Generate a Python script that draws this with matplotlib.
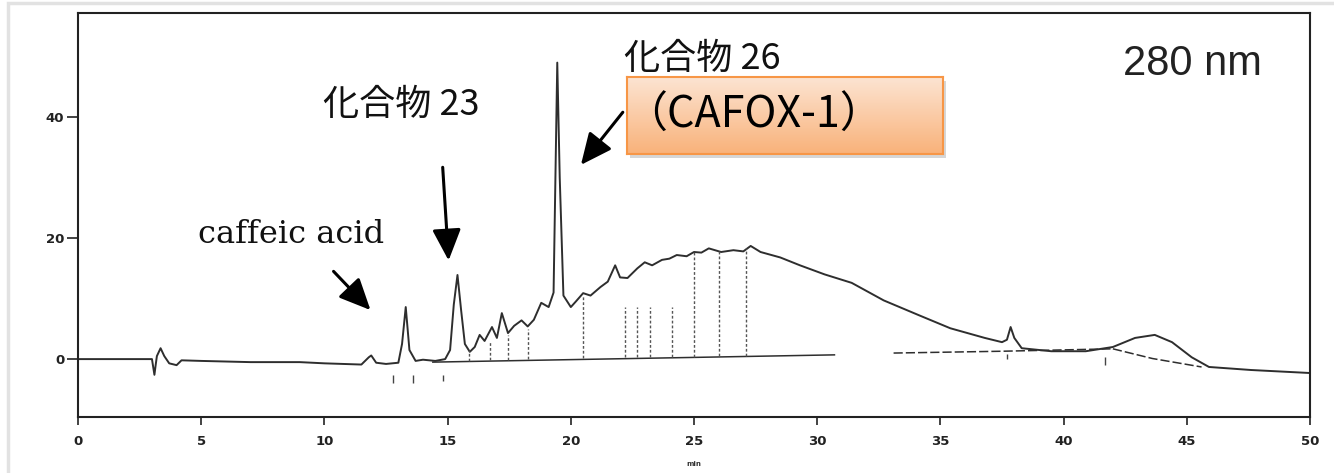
import numpy as np
import matplotlib
matplotlib.use('Agg')
import matplotlib.pyplot as plt
from matplotlib.patches import Rectangle

# chromatogram trace (min, mAU)
trace_t = [0, 3.0, 3.1, 3.15, 3.2, 3.35, 3.5, 3.7, 4.0, 4.2, 5, 7, 9, 10, 11.5, 11.8, 11.9, 12.1,
           12.5, 13.0, 13.15, 13.3, 13.45, 13.7, 14.0, 14.5, 14.9, 15.1, 15.25, 15.4, 15.55, 15.7,
           15.9, 16.1, 16.3, 16.5, 16.8, 17.0, 17.2, 17.45, 17.7, 18.0, 18.25, 18.5, 18.8, 19.1,
           19.3, 19.45, 19.55, 19.7, 20.0, 20.2, 20.5, 20.8, 21.2, 21.5, 21.8, 22.0, 22.3, 22.7,
           23.0, 23.3, 23.7, 24.0, 24.3, 24.7, 25.0, 25.3, 25.6, 26.1, 26.6, 27.0, 27.3, 27.7,
           28.5, 29.3, 30.3, 31.4, 32.7, 34.1, 35.4, 36.8, 37.5, 37.7, 37.85, 38.0, 38.3, 39.5,
           40.9, 42.0, 42.9, 43.7, 44.4, 45.2, 45.9, 47.6, 50]
trace_y = [0, 0, -2.6, -1.0, 0.5, 1.8, 0.5, -0.7, -1.0, -0.2, -0.3, -0.5, -0.5, -0.7, -0.9, 0.3, 0.6, -0.6,
           -0.8, -0.6, 2.5, 8.6, 1.5, -0.3, -0.1, -0.3, 0.0, 1.5, 9.0, 13.9, 8.0, 2.5,
           1.2, 2.0, 4.0, 3.0, 5.3, 3.5, 7.6, 4.3, 5.5, 6.4, 5.4, 6.5, 9.3, 8.6,
           11.0, 49.0, 30.0, 10.5, 8.6, 9.5, 10.9, 10.5, 11.9, 12.8, 15.5, 13.5, 13.4, 15.0,
           16.0, 15.5, 16.4, 16.6, 17.2, 17.0, 17.7, 17.6, 18.3, 17.7, 18.0, 17.8, 18.7, 17.7,
           16.8, 15.5, 14.0, 12.6, 9.7, 7.3, 5.1, 3.5, 2.8, 3.2, 5.3, 3.5, 1.8, 1.3,
           1.3, 2.0, 3.5, 4.0, 2.8, 0.3, -1.3, -1.8, -2.3]

# integration baselines
base1_t = [14.4, 30.7]
base1_y = [-0.5, 0.7]
base2_t = [33.1, 37.5, 42.0]
base2_y = [1.0, 1.3, 1.7]
base3_t = [42.0, 43.6, 45.6]
base3_y = [1.7, 0.1, -1.3]

# peak drop lines
drop_t = [15.85, 16.7, 17.45, 18.25, 20.5, 22.2, 22.7, 23.2, 24.1, 25.0, 26.0, 27.1]
drop_lo = [-0.3, -0.2, -0.1, 0.0, 0.2, 0.3, 0.3, 0.3, 0.4, 0.4, 0.5, 0.5]
drop_hi = [1.5, 3.0, 4.0, 5.0, 10.5, 8.6, 8.6, 8.6, 8.6, 17.7, 18.0, 18.3]

# event marks under the trace
mark_t = [12.8, 13.6, 14.8, 37.7, 41.7]
mark_lo = [-4.0, -4.0, -3.6, 0.0, -1.0]
mark_hi = [-2.6, -2.6, -2.6, 0.8, 0.4]

xticks = [0, 5, 10, 15, 20, 25, 30, 35, 40, 45, 50]
yticks = [0, 20, 40]

cjk = ['Noto Sans CJK JP', 'DejaVu Sans']

fig = plt.figure(figsize=(13.34, 4.73), dpi=100)
ax = fig.add_axes([0.0585, 0.118, 0.9235, 0.8545])

ink = '#2e2e2e'
ax.plot(trace_t, trace_y, color=ink, lw=1.4)
ax.plot(base1_t, base1_y, color=ink, lw=1.1)
ax.plot(base2_t, base2_y, color=ink, lw=1.1, ls=(0, (6, 2)))
ax.plot(base3_t, base3_y, color=ink, lw=1.1, ls=(0, (6, 2)))
ax.vlines(drop_t, drop_lo, drop_hi, color='#555555', lw=1.0, ls=(0, (2, 1.5)))
ax.vlines(mark_t, mark_lo, mark_hi, color='#444444', lw=1.0)

ax.set_xlim(0, 50)
ax.set_ylim(-9.6, 57.2)
ax.set_xticks(xticks)
ax.set_yticks(yticks)
ax.tick_params(axis='both', direction='out', colors='#222222', labelsize=9.5)
ax.tick_params(axis='y', length=8, width=1.2, pad=2)
ax.tick_params(axis='x', length=6, width=1.2, pad=7)
for lab in ax.get_xticklabels() + ax.get_yticklabels():
    lab.set_fontweight('bold')
ax.set_xlabel('min', fontsize=5, fontweight='bold', labelpad=9, color='#333333')
for s in ax.spines.values():
    s.set_color('#222222')
    s.set_linewidth(1.5)

# annotations
arrow = dict(arrowstyle='-|>,head_length=1.2,head_width=0.55', lw=2.2, color='black',
             mutation_scale=16, shrinkA=0, shrinkB=0)
ax.text(4.85, 20.6, 'caffeic acid', family='DejaVu Serif', fontsize=23, color='#111111',
        ha='left', va='center')
ax.annotate('', xy=(11.87, 8.1), xytext=(10.37, 14.5), arrowprops=arrow)
ax.text(9.96, 42.0, '化合物 23', family=cjk, fontsize=26, color='#111111', ha='left', va='center')
ax.annotate('', xy=(15.04, 16.3), xytext=(14.8, 31.7), arrowprops=arrow)
ax.text(22.15, 49.6, '化合物 26', family=cjk, fontsize=26, color='#111111', ha='left', va='center',
        zorder=3)
ax.annotate('', xy=(20.41, 32.1), xytext=(22.11, 40.8), arrowprops=arrow)
ax.text(48.05, 48.8, '280 nm', family='Liberation Sans', fontsize=30, color='#222222',
        ha='right', va='center')

# orange callout box with gradient
W, H = 1334.0, 473.0
bx, by, bw, bh = 627 / W, 1 - 154 / H, 316 / W, 77 / H
fig.patches.append(Rectangle((bx + 3 / W, by - 4 / H), bw, bh, transform=fig.transFigure,
                             facecolor='#bbbbbb', edgecolor='none', alpha=0.6, zorder=5))
bax = fig.add_axes([bx, by, bw, bh], zorder=6)
top = np.array([252, 228, 210]) / 255.0
bot = np.array([249, 178, 122]) / 255.0
grad = np.linspace(0, 1, 100)[:, None, None] * (bot - top) + top
bax.imshow(np.repeat(grad, 2, axis=1), aspect='auto', extent=[0, 1, 0, 1], origin='upper')
bax.set_xticks([])
bax.set_yticks([])
for s in bax.spines.values():
    s.set_color('#f79646')
    s.set_linewidth(1.5)
bax.text(0.40, 0.50, '（CAFOX-1）', family=cjk, fontsize=31, color='black',
         ha='center', va='center', transform=bax.transAxes)

# light frame of the scanned image
fig.patches.append(Rectangle((8 / W, -0.05), 1.2, 1 - 3 / H + 0.05, transform=fig.transFigure,
                             facecolor='none', edgecolor='#e2e2e2', lw=2.5, zorder=0))

fig.savefig('out.png', dpi=100)
